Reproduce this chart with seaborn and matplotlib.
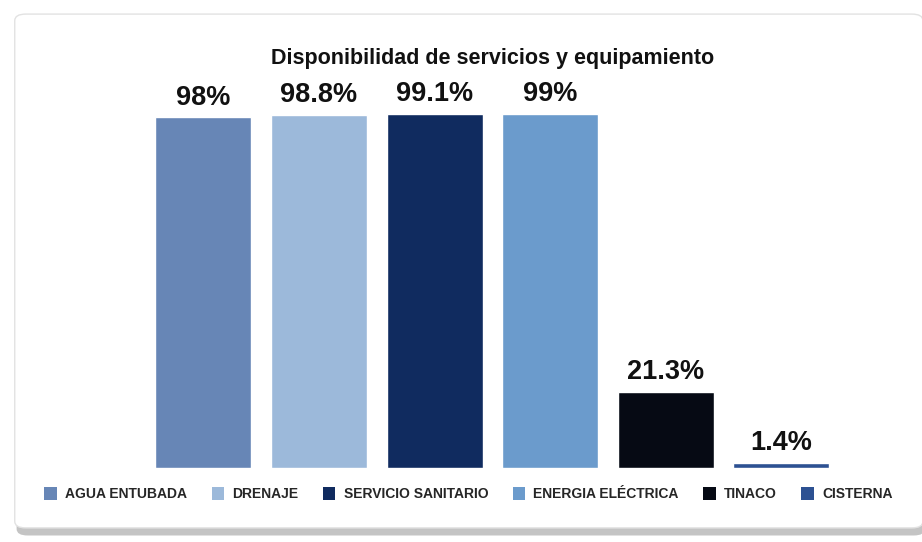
import matplotlib
matplotlib.use("Agg")
import matplotlib.pyplot as plt
import seaborn as sns
import pandas as pd
from matplotlib.patches import FancyBboxPatch, Patch

# --- datos ---
categorias = ["AGUA ENTUBADA", "DRENAJE", "SERVICIO SANITARIO",
              "ENERGIA ELÉCTRICA", "TINACO", "CISTERNA"]
valores = [98.0, 98.8, 99.1, 99.0, 21.3, 1.4]
etiquetas = ["98%", "98.8%", "99.1%", "99%", "21.3%", "1.4%"]
colores = ["#6786b6", "#9cb9da", "#102b5f", "#6b9bcc", "#060a14", "#2d5192"]
titulo = "Disponibilidad de servicios y equipamiento"

df = pd.DataFrame({"categoria": categorias, "valor": valores})

sns.set_theme(style="white")
plt.rcParams["font.family"] = ["Liberation Sans Narrow", "Liberation Sans", "DejaVu Sans"]

fig = plt.figure(figsize=(9.22, 5.42), dpi=100)

# tarjeta con sombra
sombra = FancyBboxPatch((0.018, 0.012), 0.985, 0.955, boxstyle="round,pad=0,rounding_size=0.012",
                        transform=fig.transFigure, facecolor="#c4c4c4", edgecolor="none", zorder=-2)
tarjeta = FancyBboxPatch((0.016, 0.026), 0.985, 0.948, boxstyle="round,pad=0,rounding_size=0.012",
                         transform=fig.transFigure, facecolor="white", edgecolor="#e2e2e2",
                         linewidth=1, zorder=-1)
fig.patches.extend([sombra, tarjeta])

ax = fig.add_axes([0.158, 0.1365, 0.752, 0.66])
ax.set_zorder(2)
ax.set_facecolor("none")
sns.barplot(data=df, x="categoria", y="valor", hue="categoria", palette=colores,
            width=0.83, legend=False, ax=ax, saturation=1)

ax.set_ylim(0, 100)
ax.set_xlim(-0.5, 5.5)
ax.set_xlabel("")
ax.set_ylabel("")
ax.set_xticks([])
ax.set_yticks([])
sns.despine(ax=ax, left=True, bottom=True)

for i, (v, t) in enumerate(zip(valores, etiquetas)):
    ax.annotate(t, (i, v), xytext=(0, 5), textcoords="offset points",
                ha="center", va="bottom", fontsize=19.5, fontweight="bold", color="#111111",
                annotation_clip=False)

fig.text(0.534, 0.892, titulo, ha="center", va="center", fontsize=15.5,
         fontweight="bold", color="#111111")

handles = [Patch(facecolor=c, edgecolor="none") for c in colores]
leg = fig.legend(handles, categorias, loc="center", bbox_to_anchor=(0.508, 0.088), ncol=6,
                 frameon=False, prop={"size": 10, "weight": "bold"},
                 handlelength=0.9, handleheight=1.1, handletextpad=0.6, columnspacing=1.75)
leg.set_zorder(3)

fig.savefig("out.png", dpi=100)
